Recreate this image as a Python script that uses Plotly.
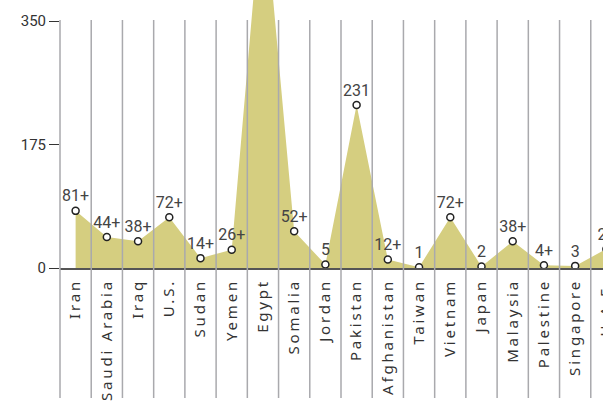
import plotly.graph_objects as go

countries = ["Iran", "Saudi Arabia", "Iraq", "U.S.", "Sudan", "Yemen", "Egypt",
             "Somalia", "Jordan", "Pakistan", "Afghanistan", "Taiwan", "Vietnam",
             "Japan", "Malaysia", "Palestine", "Singapore", "U.A.E."]
values = [81, 44, 38, 72, 14, 26, 540, 52, 5, 231, 12, 1, 72, 2, 38, 4, 3, 27]
value_labels = ["81+", "44+", "38+", "72+", "14+", "26+", "", "52+", "5", "231",
                "12+", "1", "72+", "2", "38+", "4+", "3", "27"]
y_ticks = [0, 175, 350]

FILL = "#d5ce80"
GRID = "#a9a9ad"
N = len(countries)

fig = go.Figure()
fig.add_trace(go.Scatter(
    x=countries, y=values, mode="lines", fill="tozeroy",
    fillcolor=FILL, line=dict(width=0, color=FILL), hoverinfo="skip"))
fig.add_trace(go.Scatter(
    x=countries, y=values, mode="markers+text", text=value_labels,
    textposition="top center", cliponaxis=True,
    marker=dict(size=7, color="white", line=dict(color="#222", width=1.5)),
    textfont=dict(family="Roboto", size=16, color="#444")))

for k in range(N + 1):
    fig.add_shape(type="line", xref="paper", yref="paper",
                  x0=k / N, x1=k / N, y0=-0.485, y1=0.925,
                  line=dict(color=GRID, width=1.5), layer="above")

fig.update_layout(
    width=640, height=402,
    margin=dict(l=60, r=18, t=0, b=134),
    plot_bgcolor="white", paper_bgcolor="white", showlegend=False,
    xaxis=dict(type="category", range=[-0.5, N - 0.5], showgrid=False,
               showline=True, linecolor="#555", linewidth=2, tickangle=-90,
               ticks="", tickfont=dict(family="Noto Sans", size=15, color="#333"),
               ticklabelstandoff=3, zeroline=False),
    yaxis=dict(range=[0, 380], tickvals=y_ticks, ticktext=[str(v) for v in y_ticks],
               showgrid=False, zeroline=False, showline=False,
               ticks="outside", ticklen=10, tickcolor="#333", tickwidth=1,
               tickfont=dict(family="Roboto", size=15, color="#333"),
               ticklabelstandoff=0),
)

post = ("var s=document.createElement('style');"
        "s.textContent='html,body{margin:0;padding:0;overflow:hidden} .xtick text{letter-spacing:2.8px}';"
        "document.head.appendChild(s);")
fig.write_html("out.html", post_script=post, config={"displayModeBar": False})
